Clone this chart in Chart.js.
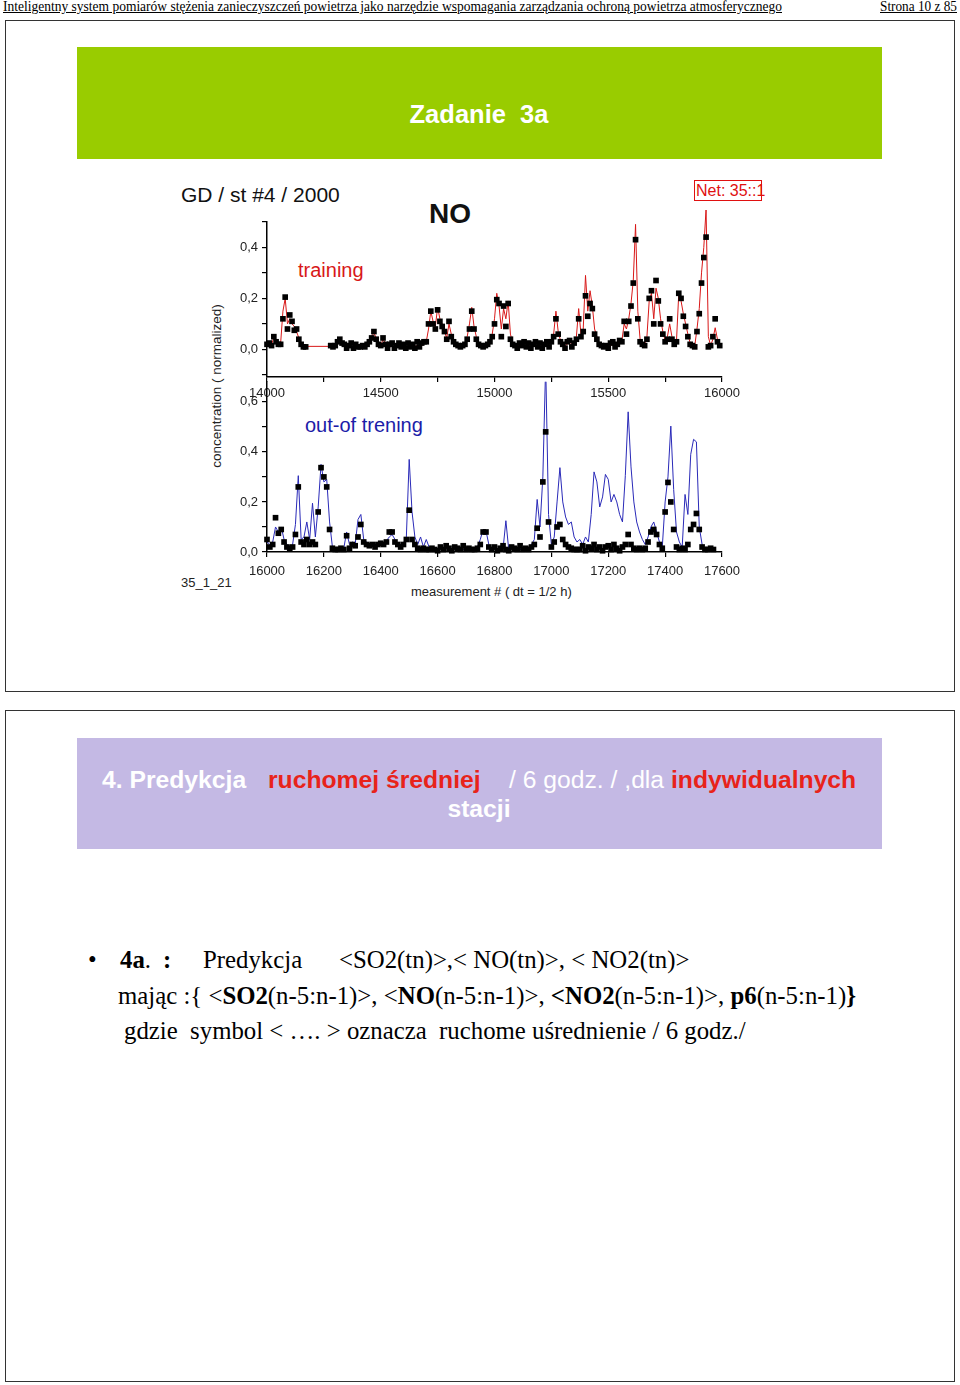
<!DOCTYPE html>
<html>
<head>
<meta charset="utf-8">
<script src="https://cdn.jsdelivr.net/npm/chart.js@4.4.0/dist/chart.umd.min.js"></script>
<style>
    body { margin: 0; width: 960px; height: 1385px; position: relative; background: #fff;
           font-family: "Liberation Sans", Arial, sans-serif; overflow: hidden; }
    .t { position: absolute; white-space: pre; line-height: 1; }
    .serif { font-family: "Liberation Serif", "Times New Roman", serif; }
    .frame { position: absolute; left: 5px; width: 948px; border: 1.5px solid #333; }
    .box { position: absolute; left: 77px; width: 805px; }
    canvas { position: absolute; }
</style>
</head>
<body>

<div class="t serif" id="hdr" style="left:3px;top:0px;font-size:14px;text-decoration:underline;transform-origin:0 0">Inteligentny system pomiarów stężenia zanieczyszczeń powietrza jako narzędzie wspomagania zarządzania ochroną powietrza atmosferycznego</div>
<div class="t serif" id="pg" style="left:880px;top:0px;font-size:14px;text-decoration:underline;transform-origin:0 0">Strona 10 z 85</div>

<!-- slide 1 -->
<div class="frame" style="top:20px;height:670px"></div>
<div class="box" style="top:47px;height:112px;background:#99cc00"></div>
<div class="t" style="left:0;width:958px;text-align:center;top:102px;font-size:25.5px;font-weight:bold;color:#fff">Zadanie  3a</div>

<div class="t" style="left:181px;top:184px;font-size:21px;color:#111">GD / st #4 / 2000</div>
<div class="t" style="left:429px;top:200px;font-size:28px;font-weight:bold;color:#111">NO</div>
<div class="t" style="left:696px;top:183px;font-size:16px;color:#e01010">Net: 35::1</div>
<div style="position:absolute;left:694px;top:180px;width:66px;height:19px;border:1.5px solid #e01010"></div>
<div class="t" style="left:298px;top:260px;font-size:20px;color:#d81818">training</div>
<div class="t" style="left:305px;top:415px;font-size:20px;color:#1c1ca8">out-of trening</div>
<div class="t" style="left:217px;top:386px;font-size:13.5px;color:#222;transform:translate(-50%,-50%) rotate(-90deg)">concentration ( normalized)</div>
<div class="t" style="left:181px;top:576px;font-size:13px;color:#222">35_1_21</div>
<div class="t" style="left:411px;top:585px;font-size:13px;color:#222">measurement # ( dt = 1/2 h)</div>

<canvas id="topChart" width="551" height="200" style="left:201px;top:210px"></canvas>
<canvas id="bottomChart" width="551" height="215" style="left:201px;top:370px"></canvas>

<!-- slide 2 -->
<div class="frame" style="top:710px;height:670px"></div>
<div class="box" style="top:738px;height:111px;background:#c4b9e4"></div>
<div class="t" style="left:102px;top:768px;font-size:24.7px;font-weight:bold;color:#fff">4. Predykcja</div>
<div class="t" style="left:268px;top:768px;font-size:24.7px;font-weight:bold;color:#e8231a">ruchomej średniej</div>
<div class="t" style="left:509px;top:768px;font-size:24.7px;color:#fff">/ 6 godz. / ,dla</div>
<div class="t" style="left:671px;top:768px;font-size:24.7px;font-weight:bold;color:#e8231a">indywidualnych</div>
<div class="t" style="left:0;width:958px;text-align:center;top:797px;font-size:24.7px;font-weight:bold;color:#fff">stacji</div>

<div class="t serif" style="left:88px;top:948px;font-size:24.8px">•</div>
<div class="t serif" style="left:120px;top:948px;font-size:24.8px"><b>4a</b>.</div>
<div class="t serif" style="left:163px;top:948px;font-size:24.8px"><b>:</b></div>
<div class="t serif" style="left:203px;top:948px;font-size:24.8px">Predykcja</div>
<div class="t serif" style="left:339px;top:948px;font-size:24.8px">&lt;SO2(tn)&gt;,&lt; NO(tn)&gt;, &lt; NO2(tn)&gt;</div>
<div class="t serif" style="left:118px;top:984px;font-size:24.8px">mając :{ &lt;<b>SO2</b>(n-5:n-1)&gt;, &lt;<b>NO</b>(n-5:n-1)&gt;, <b>&lt;NO2</b>(n-5:n-1)&gt;, <b>p6</b>(n-5:n-1)<b>}</b></div>
<div class="t serif" style="left:124px;top:1019px;font-size:24.8px">gdzie  symbol &lt; …. &gt; oznacza  ruchome uśrednienie / 6 godz./</div>

<script>
// measurements every 10 steps, starting at topStart / bottomStart
var topStart = 14000;
var bottomStart = 16000;
var stepX = 10;

// training period: measured (squares) and net output (red line)
var topMeasured = [
    .02, .025, .015, .05, .03, .02, .02, .12, .205, .08,
    .135, .11, .075, .08, .04, .02, .01, .01, null, null,
    null, null, null, null, null, null, null, null, .015, .01,
    .015, .03, .04, .025, .02, .005, .015, .025, .005, .02,
    .01, .01, .015, .01, .02, .03, .045, .07, .04, .02,
    .015, .045, .02, .005, .02, .025, .005, .015, .025, .01,
    .02, .005, .025, .01, .02, .005, .03, .01, .025, .03,
    .03, .1, .15, .1, .08, .155, .11, .09, .07, .04,
    .11, .05, .03, .02, .015, .01, .015, .02, .04, .08,
    .15, .08, .04, .02, .015, .01, .015, .02, .03, .05,
    .1, .195, .18, .05, .17, .09, .18, .04, .02, .015,
    .005, .025, .015, .03, .01, .025, .005, .02, .03, .01,
    .025, .005, .02, .03, .01, .03, .05, .12, .06, .03,
    .02, .005, .03, .035, .01, .025, .04, .12, .05, .07,
    .21, .13, .18, .16, .06, .04, .02, .015, .01, .015,
    .005, .025, .03, .01, .02, .035, .03, .11, .06, .11,
    .17, .26, .43, .12, .03, .02, .015, .04, .2, .23,
    .1, .27, .19, .1, .06, .03, .04, .12, .04, .02,
    .03, .22, .2, .13, .09, .05, .02, .015, .01, .07,
    .14, .26, .36, .44, .01, .015, .05, .12, .03, .015
];
var topPredicted = [
    .02, .02, .02, .045, .03, .02, .025, .15, .2, .1,
    .12, .1, .09, .07, .045, .025, .015, .012, null, null,
    null, null, null, null, null, null, null, null, .012, .012,
    .015, .02, .035, .03, .02, .012, .01, .012, .012, .01,
    .01, .012, .015, .012, .02, .03, .05, .065, .045, .02,
    .015, .04, .025, .012, .01, .012, .012, .01, .012, .012,
    .012, .012, .012, .012, .012, .012, .015, .012, .015, .02,
    .03, .08, .15, .11, .09, .165, .12, .1, .07, .045,
    .1, .06, .035, .02, .015, .012, .015, .02, .05, .1,
    .165, .09, .05, .025, .015, .012, .015, .02, .035, .06,
    .12, .22, .17, .08, .16, .12, .19, .06, .025, .015,
    .012, .018, .015, .012, .018, .015, .012, .012, .012, .012,
    .02, .015, .012, .015, .02, .03, .06, .15, .07, .035,
    .02, .015, .02, .03, .02, .03, .05, .16, .06, .08,
    .29, .15, .23, .17, .08, .05, .025, .015, .012, .015,
    .012, .015, .02, .012, .015, .02, .035, .1, .08, .12,
    .18, .27, .49, .15, .04, .02, .02, .05, .19, .22,
    .12, .24, .2, .12, .07, .035, .05, .1, .05, .025,
    .035, .22, .19, .14, .1, .06, .025, .015, .012, .08,
    .16, .3, .4, .55, .05, .015, .04, .085, .04, .015
];

// out-of-training period: measured (squares) and net output (blue line)
var bottomMeasured = [
    .05, .02, .03, .137, .075, .09, .04, .02, .015, .02,
    .07, .26, .04, .03, .05, .03, .04, .03, .16, .337,
    .3, .26, .09, .015, .01, .01, .015, .01, .065, .015,
    .03, .025, .06, .11, .04, .03, .025, .03, .02, .03,
    .035, .03, .04, .08, .08, .04, .03, .02, .03, .05,
    .167, .05, .03, .015, .01, .015, .01, .01, .015, .01,
    .005, .02, .01, .025, .015, .005, .02, .015, .01, .025,
    .01, .015, .01, .01, .015, .03, .08, .08, .02, .01,
    .02, .005, .015, .025, .01, .005, .02, .015, .01, .025,
    .01, .015, .01, .02, .03, .095, .06, .28, .48, .12,
    .02, .04, .1, .11, .05, .03, .02, .015, .01, .01,
    .01, .025, .005, .02, .015, .03, .01, .02, .005, .02,
    .025, .01, .03, .015, .005, .02, .03, .07, .03, .015,
    .01, .015, .01, .015, .04, .08, .09, .07, .03, .015,
    .16, .278, .2, .09, .02, .01, .015, .01, .03, .09,
    .11, .154, .09, .02, .01, .01, .015, .01
];
var bottomPredicted = [
    .04, .03, .04, .1, .08, .1, .05, .03, .02, .03,
    .11, .305, .05, .06, .12, .05, .195, .06, .18, .35,
    .28, .29, .12, .02, .01, .012, .015, .015, .08, .03,
    .04, .03, .13, .15, .05, .04, .03, .035, .03, .035,
    .04, .035, .045, .06, .07, .05, .035, .03, .035, .06,
    .37, .16, .06, .03, .06, .02, .05, .02, .015, .01,
    .01, .012, .01, .015, .012, .01, .012, .01, .012, .01,
    .01, .012, .01, .012, .02, .05, .09, .085, .03, .01,
    .01, .012, .01, .012, .125, .01, .012, .01, .012, .01,
    .01, .012, .015, .03, .05, .21, .1, .3, .75, .15,
    .03, .06, .2, .337, .2, .14, .11, .12, .06, .04,
    .05, .03, .06, .04, .15, .32, .28, .18, .22, .31,
    .29, .2, .23, .2, .15, .12, .305, .56, .34, .2,
    .12, .08, .05, .03, .06, .1, .12, .08, .04, .02,
    .2, .3, .503, .25, .08, .04, .02, .23, .15, .39,
    .45, .44, .1, .03, .01, .01, .01, .01
];

var topXTicks = [14000, 14500, 15000, 15500, 16000];
var bottomXTicks = [16000, 16200, 16400, 16600, 16800, 17000, 17200, 17400, 17600];

function toPoints(start, arr) {
    return arr.map(function (v, i) { return { x: start + i * stepX, y: v }; });
}

function yLabel(v) {
    var n = Math.round(v * 10);
    if (n % 2 !== 0 || n < 0) return '';
    return (n / 10).toFixed(1).replace('.', ',');
}

var tickFont = { family: "'Liberation Sans', Arial, sans-serif", size: 13 };

function makeChart(id, start, measured, predicted, lineColor, xMin, xMax, xStep, xLabels, yMin, yMax, pad, xPad, clipLine) {
    var ctx = document.getElementById(id).getContext('2d');
    return new Chart(ctx, {
        type: 'line',
        data: {
            datasets: [{
                data: toPoints(start, measured),
                showLine: false,
                pointStyle: 'rect',
                pointRadius: 4,
                pointBackgroundColor: '#000',
                pointBorderWidth: 0,
                order: 0,
                clip: false
            }, {
                data: toPoints(start, predicted),
                borderColor: lineColor,
                borderWidth: 1,
                pointRadius: 0,
                tension: 0,
                spanGaps: true,
                order: 1,
                clip: clipLine
            }]
        },
        options: {
            responsive: false,
            animation: false,
            devicePixelRatio: 1,
            layout: { padding: pad },
            plugins: { legend: { display: false }, tooltip: { enabled: false } },
            scales: {
                x: {
                    type: 'linear', min: xMin, max: xMax,
                    grid: { display: true, drawOnChartArea: false, drawTicks: true, tickLength: 5, color: '#000', lineWidth: 1.2 },
                    border: { display: true, color: '#000', width: 1.5 },
                    ticks: {
                        stepSize: xStep, autoSkip: false, maxRotation: 0, padding: xPad,
                        color: '#222', font: tickFont,
                        callback: function (v) { return xLabels.indexOf(v) >= 0 ? String(v) : ''; }
                    },
                    afterFit: function (s) { s.height = 33; }
                },
                y: {
                    min: yMin, max: yMax,
                    grid: { display: true, drawOnChartArea: false, drawTicks: true, tickLength: 5, color: '#000', lineWidth: 1.2 },
                    border: { display: true, color: '#000', width: 1.5 },
                    ticks: { stepSize: 0.1, includeBounds: false, autoSkip: false, padding: 4, color: '#222', font: tickFont, callback: yLabel },
                    afterFit: function (s) { s.width = 66; }
                }
            }
        }
    });
}

// right padding larger than the last tick label overhang, so the plot ends at x=721
makeChart('topChart', topStart, topMeasured, topPredicted, '#d81818',
    14000, 16000, 250, topXTicks, -0.108, 0.5, { left: 0, right: 30, top: 10, bottom: 0 }, 4, false);
makeChart('bottomChart', bottomStart, bottomMeasured, bottomPredicted, '#2a2ab8',
    16000, 17600, 200, bottomXTicks, 0, 0.68, { left: 0, right: 30, top: 7, bottom: 0 }, 7, true);

// squeeze header line to the page width like the PDF render
function fitWidth(id, w) {
    var el = document.getElementById(id);
    var cw = el.getBoundingClientRect().width;
    el.style.transform = 'scaleX(' + (w / cw) + ')';
}
fitWidth('hdr', 779);
fitWidth('pg', 77);
</script>
</body>
</html>
